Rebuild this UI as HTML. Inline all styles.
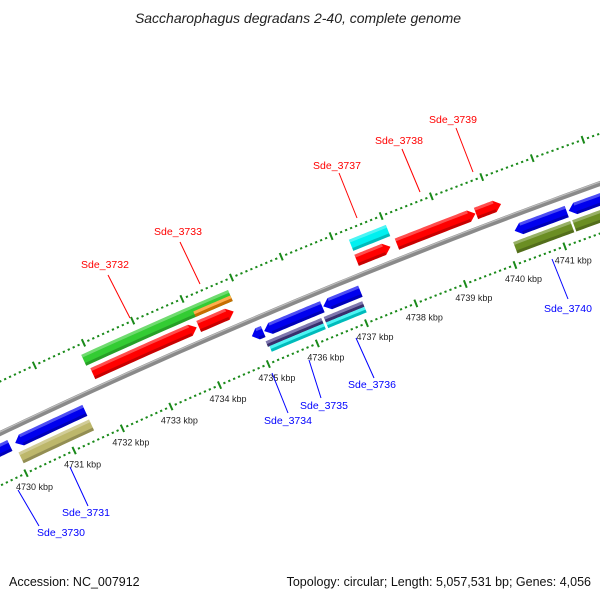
<!DOCTYPE html>
<html><head><meta charset="utf-8"><style>
body{margin:0;background:#fff}
svg{display:block}
text{font-family:"Liberation Sans","DejaVu Sans",sans-serif}
</style></head><body>
<svg id="map" width="600" height="600" viewBox="0 0 600 600">
<text x="298" y="23" text-anchor="middle" font-size="14" font-style="italic" fill="#222">Saccharophagus degradans 2-40, complete genome</text>
<text x="9" y="586" font-size="12.5" fill="#111">Accession: NC_007912</text>
<text x="591" y="586" text-anchor="end" font-size="12.5" fill="#111">Topology: circular; Length: 5,057,531 bp; Genes: 4,056</text>
<g id="ticks"></g><g id="bb"></g><g id="genes"></g><g id="labels"></g>
</svg>
<script>
// data
const tickKbp=[4729,4730,4731,4732,4733,4734,4735,4736,4737,4738,4739,4740,4741,4742,4743];
const tickLabels=["4730 kbp","4731 kbp","4732 kbp","4733 kbp","4734 kbp","4735 kbp","4736 kbp","4737 kbp","4738 kbp","4739 kbp","4740 kbp","4741 kbp"];
const labelKbp=[4730,4731,4732,4733,4734,4735,4736,4737,4738,4739,4740,4741];
const geneStart=[4729.3,4730.06,4730.04,4731.87,4734.1,4731.92,4734.08,4734.92,4735.17,4736.37,4735.12,4736.3,4735.15,4736.3,4737.28,4737.27,4738.08,4739.66,4740.22,4741.3,4740.12,4741.3];
const geneEnd=[4729.95,4731.5,4731.5,4734.85,4734.85,4734.04,4734.79,4735.15,4736.35,4737.12,4736.25,4737.08,4736.25,4737.08,4738.02,4737.95,4739.65,4740.16,4741.26,4742.7,4741.26,4742.7];
const geneStrand=[-1,-1,0,0,0,1,1,-1,-1,-1,0,0,0,0,0,1,1,1,-1,-1,0,0];
const geneLane=["i1","i1","i2","o2","o2b","o1","o1","i1","i1","i1","i2a","i2a","i2b","i2b","o2","o1","o1","o1","i1","i1","i2","i2"];
const geneColor=["#0000ee","#0000ee","#bdb76b","#33cc33","#ff8c00","#ff0000","#ff0000","#0000ee","#0000ee","#0000ee","#483d8b","#483d8b","#00f0f0","#00f0f0","#00f0f0","#ff0000","#ff0000","#ff0000","#0000ee","#0000ee","#6b8e23","#6b8e23"];
const geneNames=["Sde_3730","Sde_3731","Sde_3731b","Sde_3732","Sde_3733b","Sde_3732r","Sde_3733","Sde_3734","Sde_3735","Sde_3736","Sde_3735p","Sde_3736p","Sde_3735c","Sde_3736c","Sde_3737c","Sde_3737","Sde_3738","Sde_3739","Sde_3740","Sde_3741","Sde_3740o","Sde_3741o"];

const CX=2797,CY=6301,R=6500,TH0=-115.43,DTH=0.472,BASE=4730;
const lanes={o1:[9,21],o2:[25,37],o2b:[25,31],i1:[-21,-9],i2:[-37,-25],i2a:[-31,-25],i2b:[-37,-31]};
const NS="http://www.w3.org/2000/svg";
function ang(k){return (TH0+(k-BASE)*DTH)*Math.PI/180;}
function pt(k,r){const a=ang(k);return [CX+r*Math.cos(a),CY+r*Math.sin(a)];}
function arc(k0,k1,r,n){const a=[];for(let i=0;i<=n;i++){a.push(pt(k0+(k1-k0)*i/n,r));}return a;}
function P(a){return a.map(p=>p[0].toFixed(2)+","+p[1].toFixed(2)).join(" ");}
function mk(tag,attrs,parent){const e=document.createElementNS(NS,tag);for(const k in attrs)e.setAttribute(k,attrs[k]);parent.appendChild(e);return e;}

// backbone
const bb=document.getElementById('bb');
let e=mk('polyline',{points:P(arc(4728.8,4743,R,80)),fill:'none',stroke:'#8a8a8a','stroke-width':5},bb);


e=mk('polyline',{points:P(arc(4728.8,4743,R+1.5,80)),fill:'none',stroke:'#bdbdbd','stroke-width':1.2},bb);



// ticks
const tg=document.getElementById('ticks');
[R-47,R+47].forEach((rr,ri)=>{
  for(let k=4728.8;k<=4743;k+=0.1){
    const kk=Math.round(k*10)/10;
    const major=Math.abs(kk-Math.round(kk))<0.01;
    const len=major?4:1;
    const a=pt(kk,rr-len),b=pt(kk,rr+len);
    const t=mk('line',{x1:a[0],y1:a[1],x2:b[0],y2:b[1],stroke:'#1a8a1a','stroke-width':major?2:2.2},tg);
    
    
  }
});
labelKbp.forEach((k,i)=>{
  const p=pt(k,R-47);
  const t=mk('text',{x:p[0]-10,y:p[1]+17,'font-size':9,fill:'#222'},tg);
  t.textContent=tickLabels[i];
  
  
});

// genes
const gg=document.getElementById('genes');
geneStart.forEach((s,i)=>{
  const en=geneEnd[i],st=geneStrand[i],ln=lanes[geneLane[i]];
  const r0=R+ln[0],r1=R+ln[1],rm=(r0+r1)/2,head=Math.min(0.13,(en-s)*0.5);
  let pts;
  if(st===1){pts=[...arc(s,en-head,r0,20),pt(en,rm),...arc(en-head,s,r1,20)];}
  else if(st===-1){pts=[pt(s,rm),...arc(s+head,en,r0,20),...arc(en,s+head,r1,20)];}
  else{pts=[...arc(s,en,r0,20),...arc(en,s,r1,20)];}
  const g=mk('polygon',{points:P(pts),fill:geneColor[i]},gg);
  
  
  const hs=st===1?s:s+(st===-1?head:0),he=st===1?en-head:en;
  const outer=Math.max(r0,r1),inner=Math.min(r0,r1);
  const hl=mk('polygon',{points:P([...arc(hs,he,outer-3,10),...arc(he,hs,outer,10)]),fill:'rgba(255,255,255,0.3)'},gg);
  
  
  const sh=mk('polygon',{points:P([...arc(hs,he,inner,10),...arc(he,hs,inner+3,10)]),fill:'rgba(0,0,0,0.22)'},gg);
  
  
});

// labels
const labName=["Sde_3732","Sde_3733","Sde_3737","Sde_3738","Sde_3739","Sde_3730","Sde_3731","Sde_3734","Sde_3735","Sde_3736","Sde_3740"];
const labX=[105,178,337,399,453,61,86,288,324,372,568];
const labY=[268,235,169,144,123,536,516,424,409,388,312];
const lineFrom=[[108,275],[180,242],[339,173],[402,149],[456,128],[39,526],[88,506],[288,413],[321,398],[374,378],[568,299]];
const lineTo=[[130,318],[200,284],[357,218],[420,192],[473,172],[18,490],[70,467],[272,373],[309,360],[356,338],[552,259]];
const lg=document.getElementById('labels');
labName.forEach((n,i)=>{
  const col=i<5?'#ff0000':'#0000ff';
  const l=mk('line',{x1:lineFrom[i][0],y1:lineFrom[i][1],x2:lineTo[i][0],y2:lineTo[i][1],stroke:col,'stroke-width':1},lg);
  
  
  const t=mk('text',{x:labX[i],y:labY[i],'text-anchor':'middle','font-size':10.5,fill:col},lg);
  t.textContent=n;
  
  
});
</script>
</body></html>
